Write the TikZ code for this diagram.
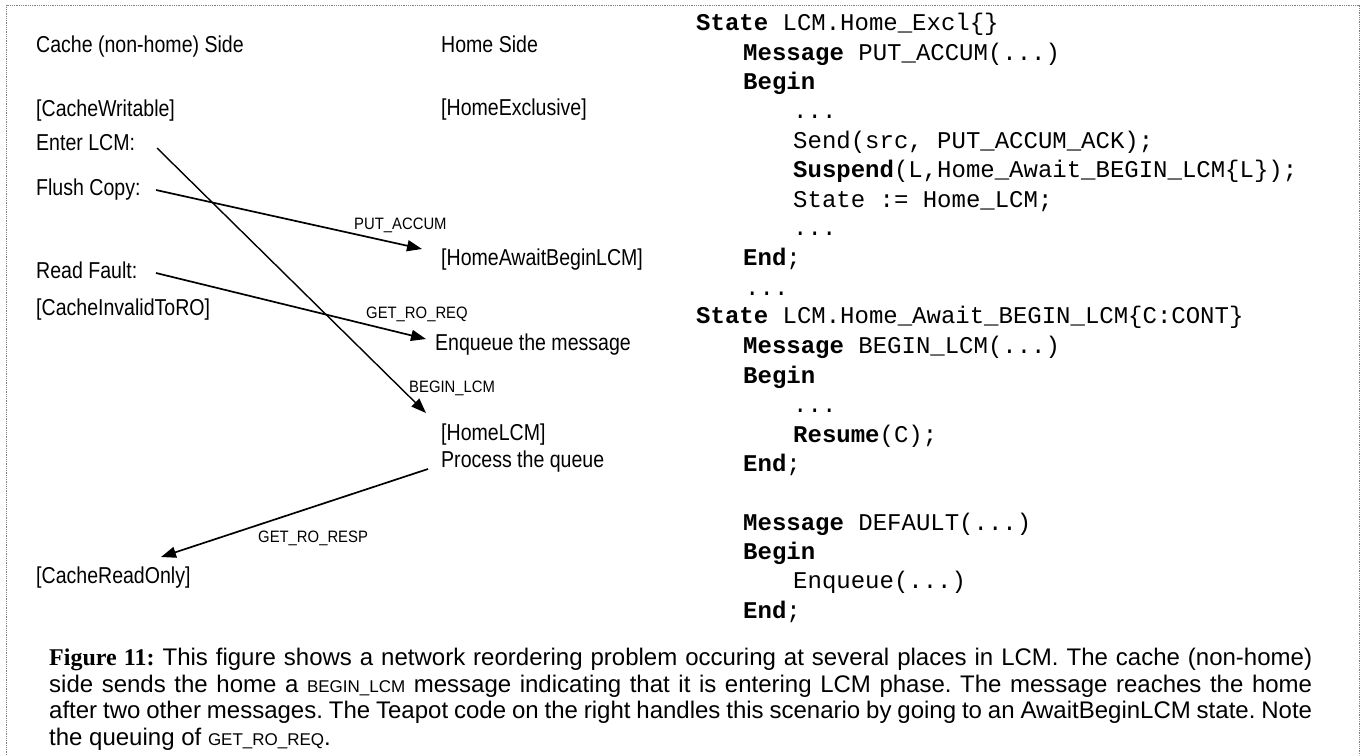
\documentclass[tikz,border=0pt]{standalone}
\usepackage{fontspec}
\setmainfont{Liberation Sans}
\newfontfamily\labf[FakeStretch=0.85]{Liberation Sans}
\newfontfamily\labsf[FakeStretch=0.9]{Liberation Sans}
\newfontfamily\codef{Liberation Mono}
\newfontfamily\capserif{Liberation Serif}
\usetikzlibrary{arrows.meta}
\frenchspacing
\begin{document}
\begin{tikzpicture}[x=1pt,y=-1pt,
  txt/.style={anchor=base west, inner sep=0pt, font=\labf\fontsize{23}{27}\selectfont},
  lbl/.style={anchor=base west, inner sep=0pt, font=\labsf\fontsize{16.5}{20}\selectfont},
  code/.style={anchor=base west, inner sep=0pt, font=\codef\fontsize{24}{28}\selectfont},
  capt/.style={anchor=base west, inner sep=0pt, font=\fontsize{24}{27}\selectfont},
  msg/.style={line width=1.7pt, -{Triangle[length=15pt,width=11pt]}},
  frame/.style={gray, densely dotted, line width=0.8pt}]
\useasboundingbox (0,0) rectangle (1362,755);
\draw[frame] (6,755) -- (6,5) -- (1359,5) -- (1359,755);

% left column
\node[txt] (cacheside) at (36,52) {Cache (non-home) Side};
\node[txt] (cw) at (36,116) {[CacheWritable]};
\node[txt] (enter) at (36,150) {Enter LCM:};
\node[txt] (flush) at (36,195) {Flush Copy:};
\node[txt] (readf) at (36,278) {Read Fault:};
\node[txt] (cinv) at (36,315) {[CacheInvalidToRO]};
\node[txt] (cro) at (36,583) {[CacheReadOnly]};

% home column
\node[txt] (homeside) at (441,52) {Home Side};
\node[txt] (hexcl) at (441,115) {[HomeExclusive]};
\node[txt] (hawait) at (441,265) {[HomeAwaitBeginLCM]};
\node[txt] (enq) at (435,350) {Enqueue the message};
\node[txt] (hlcm) at (441,440) {[HomeLCM]};
\node[txt] (proc) at (441,467) {Process the queue};

% message labels
\node[lbl] (lput) at (354,229) {PUT\_ACCUM};
\node[lbl] (lget) at (366,318) {GET\_RO\_REQ};
\node[lbl] (lbeg) at (409,392) {BEGIN\_LCM};
\node[lbl] (lresp) at (258,542) {GET\_RO\_RESP};

% messages
\draw[msg, line width=1.4pt] ([xshift=121pt,yshift=2pt]enter.base west) -- ([xshift=-15pt,yshift=27pt]hlcm.base west);
\draw[msg] ([xshift=120pt,yshift=5pt]flush.base west) -- ([xshift=-19pt,yshift=16pt]hawait.base west);
\draw[msg] ([xshift=120pt,yshift=5pt]readf.base west) -- ([xshift=-9pt,yshift=11pt]enq.base west);
\draw[msg] ([xshift=-13pt,yshift=-2pt]proc.base west) -- ([xshift=125pt,yshift=26pt]cro.base west);

% code
\node[code] (c1) at (696,30) {\textbf{State} LCM.Home\_Excl\{\}};
\node[code] (c2) at (743,60) {\textbf{Message} PUT\_ACCUM(...)};
\node[code] (c3) at (743,89) {\textbf{Begin}};
\node[code] (c4) at (793,118) {...};
\node[code] (c5) at (793,148) {Send(src, PUT\_ACCUM\_ACK);};
\node[code] (c6) at (793,177) {\textbf{Suspend}(L,Home\_Await\_BEGIN\_LCM\{L\});};
\node[code] (c7) at (793,207) {State := Home\_LCM;};
\node[code] (c8) at (793,235) {...};
\node[code] (c9) at (743,265) {\textbf{End};};
\node[code] (c10) at (745,295) {...};
\node[code] (c11) at (696,323) {\textbf{State} LCM.Home\_Await\_BEGIN\_LCM\{C:CONT\}};
\node[code] (c12) at (743,353) {\textbf{Message} BEGIN\_LCM(...)};
\node[code] (c13) at (743,383) {\textbf{Begin}};
\node[code] (c14) at (793,412) {...};
\node[code] (c15) at (793,442) {\textbf{Resume}(C);};
\node[code] (c16) at (743,471) {\textbf{End};};
\node[code] (c17) at (743,530) {\textbf{Message} DEFAULT(...)};
\node[code] (c18) at (743,559) {\textbf{Begin}};
\node[code] (c19) at (793,588) {Enqueue(...)};
\node[code] (c20) at (743,618) {\textbf{End};};

% caption
\node[capt] (cap1) at (49,665) {\makebox[1263pt][s]{{\capserif\bfseries Figure 11:} This figure shows a network reordering problem occuring at several places in LCM. The cache (non-home)}};
\node[capt] (cap2) at (49,692) {\makebox[1263pt][s]{side sends the home a {\fontsize{17}{20}\selectfont BEGIN\_LCM} message indicating that it is entering LCM phase. The message reaches the home}};
\node[capt] (cap3) at (49,718) {\makebox[1263pt][s]{after two other messages. The Teapot code on the right handles this scenario by going to an AwaitBeginLCM state. Note}};
\node[capt] (cap4) at (49,745) {the queuing of {\fontsize{17}{20}\selectfont GET\_RO\_REQ}.};
\end{tikzpicture}
\end{document}
